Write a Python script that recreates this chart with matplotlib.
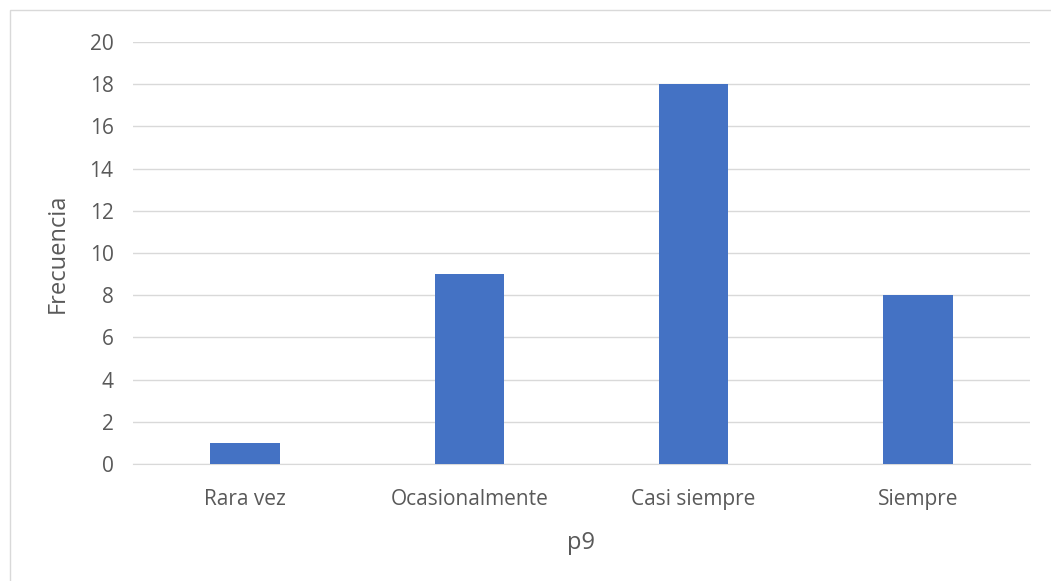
import matplotlib
matplotlib.use("Agg")
import matplotlib.pyplot as plt
from matplotlib.patches import Rectangle

categorias = ["Rara vez", "Ocasionalmente", "Casi siempre", "Siempre"]
frecuencia = [1, 9, 18, 8]
yticks = [0, 2, 4, 6, 8, 10, 12, 14, 16, 18, 20]

plt.rcParams['font.family'] = ['Open Sans', 'DejaVu Sans']

fig = plt.figure(figsize=(10.51, 5.81), dpi=100)
ax = fig.add_axes([0.1265, 0.2014, 0.8535, 0.7263])

x = list(range(len(categorias)))
ax.bar(x, frecuencia, width=0.31, color="#4472c4", zorder=3)

ax.set_xlim(-0.5, len(categorias) - 0.5)
ax.set_ylim(0, 20)
ax.set_yticks(yticks)
ax.set_xticks(x)
ax.set_xticklabels(categorias)
ax.yaxis.grid(True, color="#d9d9d9", linewidth=1, zorder=0)
ax.set_axisbelow(True)
for s in ["top", "right", "left"]:
    ax.spines[s].set_visible(False)
ax.spines["bottom"].set_color("#d9d9d9")
ax.tick_params(axis="both", length=0, colors="#595959", labelsize=15)
ax.tick_params(axis="x", pad=18)
ax.tick_params(axis="y", pad=14)

ax.set_xlabel("p9", fontsize=17, color="#595959", labelpad=15)
ax.set_ylabel("Frecuencia", fontsize=17, color="#595959", labelpad=14)

fig.patches.append(Rectangle((10 / 1051, -0.01), 1.02, 1 - 10 / 581 + 0.01,
                             transform=fig.transFigure, fill=False,
                             edgecolor="#d9d9d9", linewidth=1))

fig.savefig("out.png", dpi=100, facecolor="white")
